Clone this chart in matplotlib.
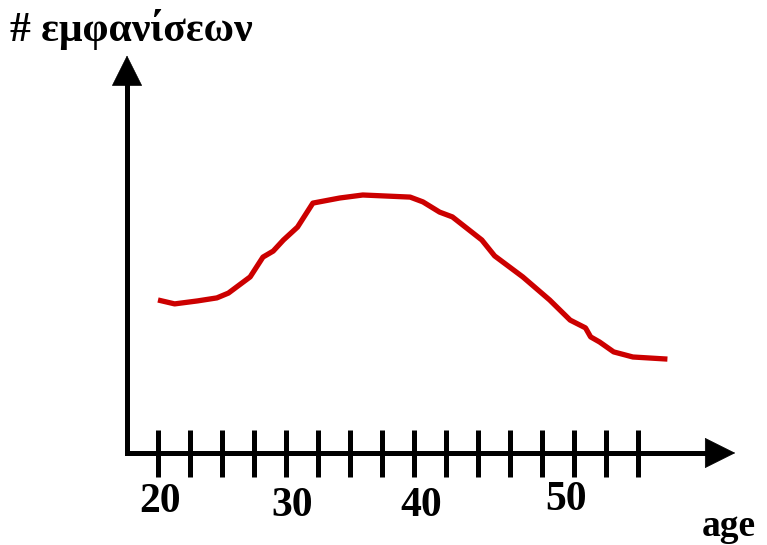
import numpy as np
import matplotlib.pyplot as plt

# curve (age, number of occurrences, arbitrary units)
age = [20.0, 21.3, 23.1, 24.6, 25.5, 27.2, 28.2, 29.0, 29.8, 30.9, 32.1, 34.2, 36.0,
       39.7, 40.7, 42.0, 43.0, 45.3, 46.3, 48.5, 50.6, 52.2, 53.4, 53.8, 54.5, 55.6,
       57.1, 59.8]
count = [51.0, 49.7, 50.7, 51.7, 53.3, 58.7, 65.3, 67.3, 71.0, 75.3, 83.3, 85.0, 86.0,
         85.3, 83.7, 80.3, 78.7, 71.0, 65.7, 58.7, 51.0, 44.3, 41.7, 38.7, 37.0, 33.7,
         32.0, 31.3]

# tick marks every 2.5 years, 16 of them
tick_ages = np.arange(16) * 2.5 + 20
tick_labels = ['20', '30', '40', '50']
label_x = [20.2, 30.5, 40.6, 51.9]
label_y = [-16.3, -17.7, -17.7, -15.7]

x_axis_start = 17.58
x_axis_end = 65.1
y_axis_end = 132.5

fig = plt.figure(figsize=(7.67, 5.45), dpi=100)
ax = fig.add_axes([0, 0, 1, 1])
ax.set_xlim(7.656, 67.58)
ax.set_ylim(-30.67, 151)
ax.axis('off')

font = dict(family=['Liberation Serif', 'DejaVu Serif'], fontweight='bold')

# L shaped axes, square corner
ax.plot([x_axis_start, x_axis_start, x_axis_end - 2],
        [y_axis_end - 8, 0, 0], color='black', lw=3.6,
        solid_joinstyle='miter', solid_capstyle='butt')

# arrow heads
head = dict(arrowstyle='-|>,head_length=2.1,head_width=1.05',
            mutation_scale=10, lw=0.5, color='black', shrinkA=0, shrinkB=0)
ax.annotate('', xy=(x_axis_end, 0), xytext=(x_axis_end - 3, 0), arrowprops=head)
ax.annotate('', xy=(x_axis_start, y_axis_end), xytext=(x_axis_start, y_axis_end - 15),
            arrowprops=head)

# tick marks crossing the x axis
ax.vlines(tick_ages, -8, 7.7, colors='black', lw=3.6)

for lab, lx, ly in zip(tick_labels, label_x, label_y):
    ax.text(lx, ly, lab, ha='center', va='center', fontsize=30, **font)

ax.plot(age, count, color='#CC0000', lw=3.8, solid_capstyle='butt',
        solid_joinstyle='round')

fig.text(10 / 767, 1 - 30 / 545, '# εμφανίσεων', ha='left', va='center',
         fontsize=30, **font)
fig.text(729 / 767, 1 - 527 / 545, 'age', ha='center', va='center',
         fontsize=27, **font)

fig.savefig('out.png', dpi=100)
